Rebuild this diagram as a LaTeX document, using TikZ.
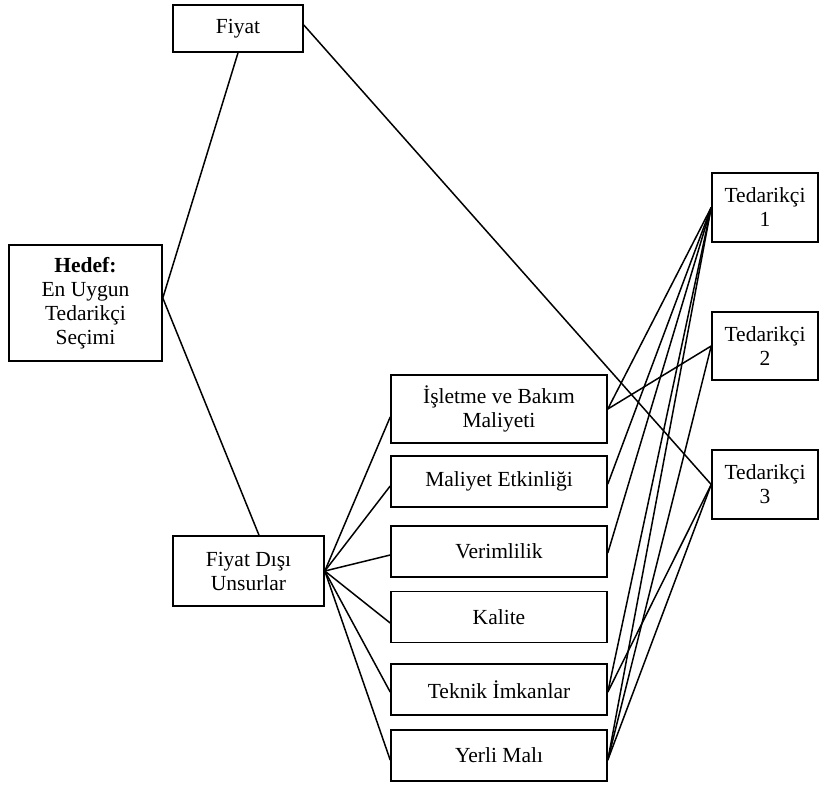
\documentclass[tikz,border=0pt]{standalone}
\usepackage{fontspec}
\setmainfont{Liberation Serif}
\begin{document}
\begin{tikzpicture}[x=1pt,y=-1pt,
  box/.style={draw, line width=1.6pt, inner sep=0pt, align=center, font=\fontsize{21.5}{24}\selectfont},
  crit/.style={box, minimum width=216pt, minimum height=51pt},
  sup/.style={box, minimum width=106pt, minimum height=69pt},
  link/.style={line width=1.5pt}]
\useasboundingbox (0,0) rectangle (838,785);
% nodes
\node[box, minimum width=130pt, minimum height=47pt] (fiyat) at (238,28.5) {Fiyat};
\node[box, minimum width=153pt, minimum height=116pt] (hedef) at (85.5,303) {\textbf{Hedef:}\\En Uygun\\Tedarikçi\\Seçimi};
\node[box, minimum width=151pt, minimum height=70pt] (fdisi) at (248.5,571) {Fiyat Dışı\\Unsurlar};
\node[crit, minimum height=68pt] (c1) at (499,409) {İşletme ve Bakım\\Maliyeti};
\node[crit] (c2) at (499,481.5) {Maliyet Etkinliği};
\node[crit] (c3) at (499,551.5) {Verimlilik};
\node[crit] (c4) at (499,617) {Kalite};
\node[crit] (c5) at (499,689.5) {Teknik İmkanlar};
\node[crit] (c6) at (499,755.5) {Yerli Malı};
\node[sup] (t1) at (765,207.5) {Tedarikçi\\1};
\node[sup, minimum height=68pt] (t2) at (765,346) {Tedarikçi\\2};
\node[sup] (t3) at (765,484.5) {Tedarikçi\\3};
% connection points
\coordinate (he) at ([yshift=5pt]hedef.east);
\coordinate (fe) at ([yshift=3.5pt]fiyat.east);
\coordinate (fdn) at ([xshift=10.5pt]fdisi.north);
\coordinate (c1w) at ([yshift=-8pt]c1.west);
\coordinate (c2w) at ([yshift=-4.5pt]c2.west);
\coordinate (c3w) at ([yshift=-3.5pt]c3.west);
\coordinate (c4w) at ([yshift=-6pt]c4.west);
\coordinate (c5w) at ([yshift=-2.5pt]c5.west);
\coordinate (c6w) at ([yshift=-4.5pt]c6.west);
\coordinate (c1e) at (c1.east);
\coordinate (c2e) at ([yshift=-2.5pt]c2.east);
\coordinate (c3e) at ([yshift=-1.5pt]c3.east);
\coordinate (c5e) at ([yshift=-2.5pt]c5.east);
\coordinate (c6e) at ([yshift=-4.5pt]c6.east);
% links
\draw[link] (he) -- (fiyat.south);
\draw[link] (he) -- (fdn);
\draw[link] (fe) -- (t3.west);
\foreach \c in {c1w,c2w,c3w,c4w,c5w,c6w} \draw[link] (fdisi.east) -- (\c);
\draw[link] (c1e) -- (t1.west);
\draw[link] (c1e) -- (t2.west);
\draw[link] (c2e) -- (t1.west);
\draw[link] (c3e) -- (t1.west);
\draw[link] (c5e) -- (t1.west);
\draw[link] (c5e) -- (t3.west);
\draw[link] (c6e) -- (t1.west);
\draw[link] (c6e) -- (t2.west);
\draw[link] (c6e) -- (t3.west);
\end{tikzpicture}
\end{document}
